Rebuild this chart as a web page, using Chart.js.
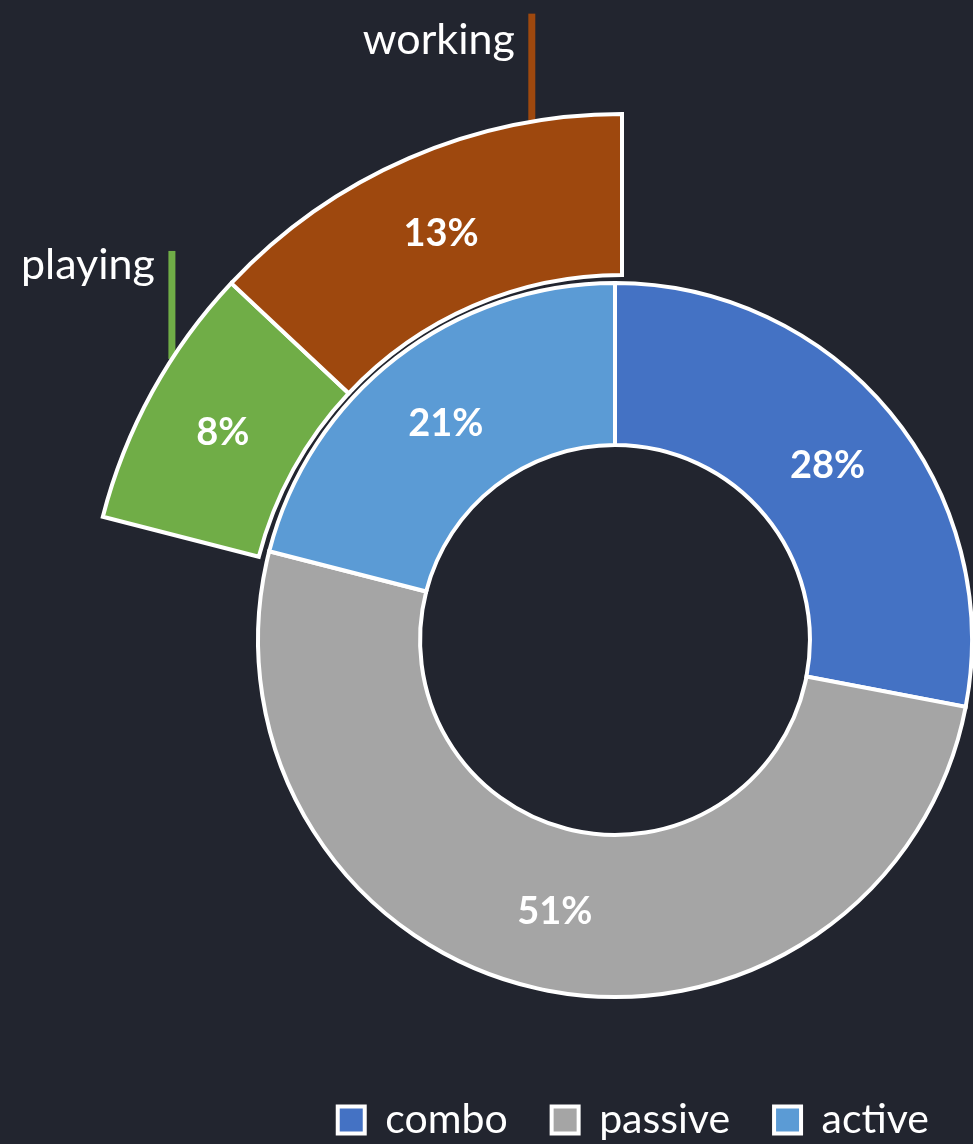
<!DOCTYPE html>
<html>
<head>
<meta charset="utf-8">
<title>Time by mode</title>
<script src="https://cdn.jsdelivr.net/npm/chart.js@4.4.1/dist/chart.umd.min.js"></script>
<style>
  html, body { margin: 0; padding: 0; background: #22252f; overflow: hidden; }
  #wrap { position: relative; width: 973px; height: 1144px; }
  #wrap canvas { position: absolute; left: 0; top: 0; }
</style>
</head>
<body>
<div id="wrap">
  <canvas id="outerRing" width="973" height="1144"></canvas>
  <canvas id="innerRing" width="973" height="1144"></canvas>
</div>
<script>
// Share of time per mode (percent)
const modeLabels = ['combo', 'passive', 'active'];
const modeValues = [28, 51, 21];

// Breakdown of the active share (percent of the whole)
const activeLabels = ['playing', 'working'];
const activeValues = [8, 13];

const modeColors = ['#4472C4', '#A5A5A5', '#5B9BD5'];
const activeColors = ['#70AD47', '#9E480E'];

const sum = arr => arr.reduce((a, b) => a + b, 0);
const restValue = sum(modeValues) - sum(activeValues);

// Percentage text in the middle of each slice
const percentLabels = {
  id: 'percentLabels',
  afterDatasetsDraw(chart, args, opts) {
    const { ctx } = chart;
    const ds = chart.data.datasets[0];
    const total = sum(ds.data);
    const meta = chart.getDatasetMeta(0);
    ctx.save();
    ctx.font = 'bold 38px Lato';
    ctx.fillStyle = '#ffffff';
    ctx.textAlign = 'center';
    ctx.textBaseline = 'middle';
    meta.data.forEach((arc, i) => {
      if ((opts.skip || []).includes(i)) return;
      const p = arc.tooltipPosition();
      ctx.fillText(Math.round(ds.data[i] / total * 100) + '%', p.x, p.y + 2);
    });
    ctx.restore();
  }
};

// Category names above the outer slices, joined by a vertical leader line
const callouts = {
  id: 'callouts',
  beforeDatasetsDraw(chart, args, opts) {
    const { ctx } = chart;
    const ds = chart.data.datasets[0];
    const meta = chart.getDatasetMeta(0);
    ctx.save();
    opts.items.forEach(item => {
      const arc = meta.data[item.index];
      const a = arc.startAngle + item.along * (arc.endAngle - arc.startAngle);
      const x = arc.x + Math.cos(a) * arc.outerRadius;
      const y = arc.y + Math.sin(a) * arc.outerRadius;
      const top = y - opts.length;
      ctx.strokeStyle = ds.backgroundColor[item.index];
      ctx.lineWidth = opts.lineWidth;
      ctx.lineCap = 'butt';
      ctx.beginPath();
      ctx.moveTo(x, y);
      ctx.lineTo(x, top);
      ctx.stroke();
      ctx.font = '43px Lato';
      ctx.fillStyle = '#ffffff';
      ctx.textAlign = 'right';
      ctx.textBaseline = 'alphabetic';
      ctx.fillText(chart.data.labels[item.index], x - opts.gap, top + item.drop);
    });
    ctx.restore();
  }
};

// Outer ring: the active share split into playing / working
new Chart(document.getElementById('outerRing'), {
  type: 'doughnut',
  data: {
    labels: ['', ...activeLabels],
    datasets: [{
      data: [restValue, ...activeValues],
      backgroundColor: ['rgba(0,0,0,0)', ...activeColors],
      borderColor: '#ffffff',
      borderWidth: [0, 4, 4],
      borderJoinStyle: 'miter'
    }]
  },
  options: {
    responsive: false,
    animation: false,
    events: [],
    radius: 536,
    cutout: '69.96%',
    layout: { padding: { left: 271, right: 0, top: 156, bottom: 0 } },
    plugins: {
      legend: { display: false },
      tooltip: { enabled: false },
      percentLabels: { skip: [0] },
      callouts: {
        length: 108,
        lineWidth: 7,
        gap: 17,
        items: [
          { index: 1, along: 0.642, drop: 28 },
          { index: 2, along: 0.793, drop: 40 }
        ]
      }
    }
  },
  plugins: [percentLabels, callouts]
});

// Inner ring: combo / passive / active
new Chart(document.getElementById('innerRing'), {
  type: 'doughnut',
  data: {
    labels: modeLabels,
    datasets: [{
      data: modeValues,
      backgroundColor: modeColors,
      borderColor: '#ffffff',
      borderWidth: 4,
      borderJoinStyle: 'miter'
    }]
  },
  options: {
    responsive: false,
    animation: false,
    events: [],
    radius: 357,
    cutout: '54.6%',
    layout: { padding: { left: 257, right: 0, top: 224.5, bottom: -6.5 } },
    plugins: {
      legend: {
        position: 'bottom',
        align: 'end',
        labels: {
          color: '#ffffff',
          font: { family: 'Lato', size: 41 },
          boxWidth: 27,
          boxHeight: 27,
          padding: 44
        }
      },
      tooltip: { enabled: false },
      percentLabels: {}
    }
  },
  plugins: [percentLabels]
});
</script>
</body>
</html>
